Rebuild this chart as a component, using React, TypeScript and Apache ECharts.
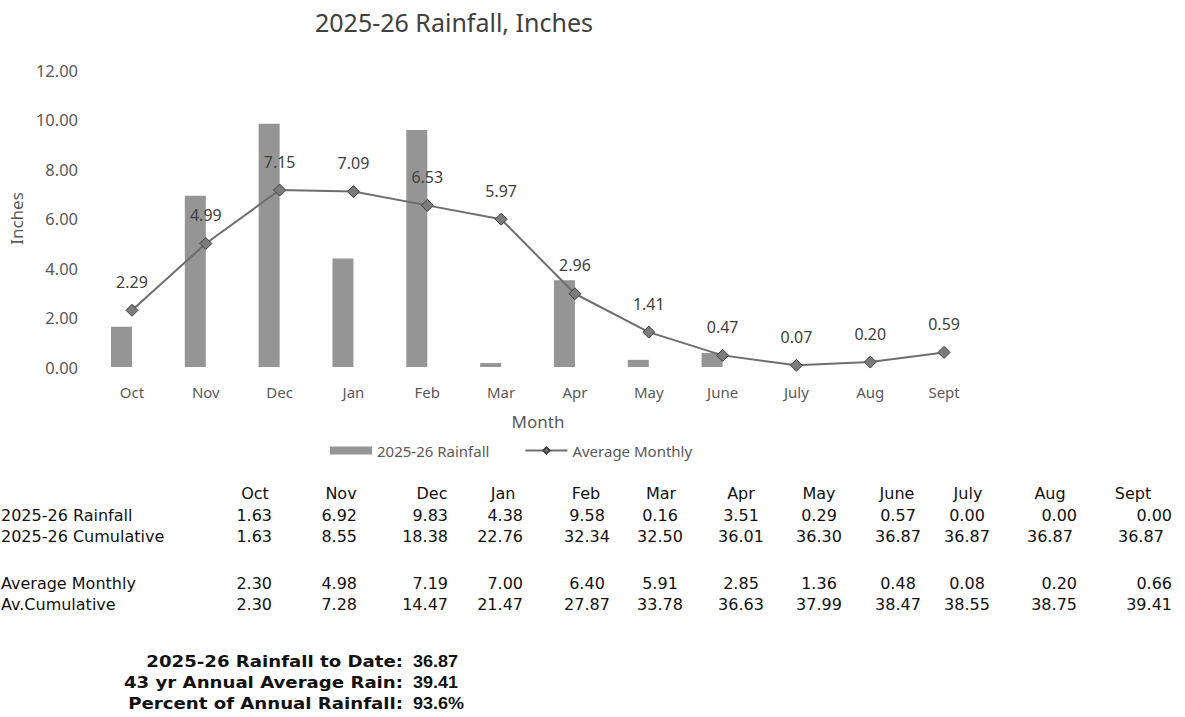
import React, { useEffect, useRef } from "react";
import * as echarts from "echarts";

// ---------- data ----------
const months = ["Oct", "Nov", "Dec", "Jan", "Feb", "Mar", "Apr", "May", "June", "July", "Aug", "Sept"];
const rainfall = [1.63, 6.92, 9.83, 4.38, 9.58, 0.16, 3.51, 0.29, 0.57, 0.0, 0.0, 0.0];
const cumulative = [1.63, 8.55, 18.38, 22.76, 32.34, 32.5, 36.01, 36.3, 36.87, 36.87, 36.87, 36.87];
const avgMonthly = [2.3, 4.98, 7.19, 7.0, 6.4, 5.91, 2.85, 1.36, 0.48, 0.08, 0.2, 0.66];
const avCumulative = [2.3, 7.28, 14.47, 21.47, 27.87, 33.78, 36.63, 37.99, 38.47, 38.55, 38.75, 39.41];
// values plotted in the chart's line (as labelled in the chart)
const chartAverage = [2.29, 4.99, 7.15, 7.09, 6.53, 5.97, 2.96, 1.41, 0.47, 0.07, 0.2, 0.59];

const rowLabels = ["2025-26 Rainfall", "2025-26 Cumulative", "Average Monthly", "Av.Cumulative"];
const summaryLabels = ["2025-26 Rainfall to Date:", "43 yr Annual Average Rain:", "Percent of Annual Rainfall:"];
const summaryValues = ["36.87", "39.41", "93.6%"];

const titleText = "2025-26 Rainfall, Inches";
const barName = "2025-26 Rainfall";
const lineName = "Average Monthly";

// ---------- layout (table) ----------
const headerX = [255, 341, 432, 503, 586, 661, 741, 819, 897, 968, 1050, 1133];
const cellX = [272, 357, 448, 523, 587, 660, 741, 819, 898, 967, 1077, 1172];
const cellAlign = ["right", "right", "right", "right", "center", "center", "center", "center", "center", "center", "right", "right"];
const cumX = [272, 357, 448, 523, 587, 660, 741, 819, 898, 967, 1027, 1118];
const cumAlign = ["right", "right", "right", "right", "center", "center", "center", "center", "center", "center", "left", "left"];
const rowY = [515, 536, 583, 604];
const headerY = 493;
const summaryY = [661, 682, 703];

const tableFont = "16px 'DejaVu Sans'";
const boldLabelFont = "bold 16.5px 'DejaVu Sans'";
const boldValueFont = "bold 17px 'Liberation Sans'";

function buildGraphic() {
  const els: any[] = [];
  const txt = (text: string, x: number, y: number, align: string, font: string, scaleX = 1) => ({
    type: "text",
    x,
    y,
    scaleX,
    silent: true,
    style: { text, font, fill: "#111", textAlign: align, textVerticalAlign: "middle" },
  });
  months.forEach((m, i) => els.push(txt(m, headerX[i], headerY, "center", tableFont)));
  rowLabels.forEach((l, r) => els.push(txt(l, 1, rowY[r], "left", tableFont)));
  const rows = [rainfall, cumulative, avgMonthly, avCumulative];
  rows.forEach((arr, r) => {
    arr.forEach((v, i) => {
      const isCum = r === 1;
      els.push(
        txt(v.toFixed(2), isCum ? cumX[i] : cellX[i], rowY[r], isCum ? cumAlign[i] : cellAlign[i], tableFont)
      );
    });
  });
  summaryLabels.forEach((l, i) => els.push(txt(l, 403, summaryY[i], "right", boldLabelFont, 1.1)));
  summaryValues.forEach((v, i) => els.push(txt(v, 413, summaryY[i], "left", boldValueFont, 1.06)));
  return els;
}

export default function App() {
  const ref = useRef<HTMLDivElement>(null);
  useEffect(() => {
    if (!ref.current) return;
    const chart = echarts.init(ref.current, undefined, { renderer: "svg" });
    const axisFont = "Noto Sans";
    chart.setOption({
      animation: false,
      backgroundColor: "#ffffff",
      textStyle: { fontFamily: axisFont },
      title: {
        text: titleText,
        left: 449,
        top: 4,
        textAlign: "center",
        textStyle: { fontSize: 25, fontWeight: "normal", color: "#404040", fontFamily: axisFont },
      },
      legend: {
        left: 325,
        top: 438,
        itemWidth: 42,
        itemHeight: 8,
        itemGap: 35,
        data: [{ name: barName, icon: "rect" }, { name: lineName }],
        textStyle: { fontSize: 15, color: "#595959", fontFamily: axisFont },
      },
      grid: { left: 88, right: 204, top: 70, bottom: 350, containLabel: false },
      xAxis: {
        type: "category",
        data: months,
        axisLine: { show: false },
        axisTick: { show: false },
        axisLabel: { margin: 17, fontSize: 15, color: "#595959" },
        name: "Month",
        nameLocation: "middle",
        nameGap: 46,
        nameTextStyle: { fontSize: 17, color: "#595959" },
      },
      yAxis: {
        type: "value",
        min: 0,
        max: 12,
        interval: 2,
        axisLine: { show: false },
        axisTick: { show: false },
        splitLine: { show: false },
        axisLabel: { margin: 17, fontSize: 16.5, color: "#595959", formatter: (v: number) => v.toFixed(2) },
        name: "Inches",
        nameLocation: "middle",
        nameRotate: 90,
        nameGap: 64,
        nameTextStyle: { fontSize: 17, color: "#595959" },
      },
      series: [
        {
          name: barName,
          type: "bar",
          data: rainfall,
          barWidth: 21,
          barGap: "0%",
          itemStyle: { color: "#959595" },
        },
        {
          name: "_spacer",
          type: "bar",
          data: months.map(() => null),
          barWidth: 21,
          silent: true,
        },
        {
          name: lineName,
          type: "line",
          data: chartAverage,
          symbol: "diamond",
          symbolSize: 12,
          z: 5,
          lineStyle: { color: "#6e6e6e", width: 2 },
          itemStyle: { color: "#7c7c7c", borderColor: "#404040", borderWidth: 1 },
          label: {
            show: true,
            position: "top",
            distance: 14,
            fontSize: 16,
            color: "#404040",
            formatter: (p: any) => Number(p.value).toFixed(2),
          },
        },
      ],
      graphic: buildGraphic(),
    });
    return () => chart.dispose();
  }, []);
  return (
    <div
      ref={ref}
      style={{ position: "fixed", left: 0, top: 0, width: 1185, height: 717, background: "#fff" }}
    />
  );
}
